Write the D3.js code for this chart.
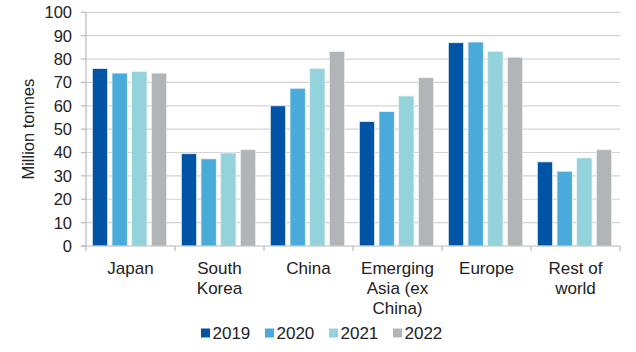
<!DOCTYPE html>
<html>
<head>
<meta charset="utf-8">
<script src="https://cdn.jsdelivr.net/npm/d3@7"></script>
<style>
  body { margin: 0; background: #fff; }
  svg { display: block; font-family: "Liberation Sans", Arial, sans-serif; }
</style>
</head>
<body>
<svg id="chart" width="636" height="352"></svg>
<script>
  // data
  const categories = [['Japan'], ['South', 'Korea'], ['China'], ['Emerging', 'Asia (ex', 'China)'], ['Europe'], ['Rest of', 'world']];
  const years = ['2019', '2020', '2021', '2022'];
  const v2019 = [76, 39.5, 60, 53.3, 87, 36];
  const v2020 = [74, 37.3, 67.5, 57.5, 87.3, 32];
  const v2021 = [74.7, 39.8, 76, 64.2, 83.3, 37.7];
  const v2022 = [74, 41.2, 83.2, 72, 80.8, 41.2];
  const yTicks = [0, 10, 20, 30, 40, 50, 60, 70, 80, 90, 100];
  const colours = ['#0054a6', '#4aabdb', '#94d3db', '#b2b5b8'];

  const series = [v2019, v2020, v2021, v2022];
  const margin = { left: 86, right: 16, top: 12.3, bottom: 106 };
  const W = 636, H = 352;
  const svg = d3.select('#chart');

  const x = d3.scaleBand().domain(d3.range(categories.length))
    .range([margin.left, W - margin.right]).paddingInner(0).paddingOuter(0);
  const y = d3.scaleLinear().domain([0, 100]).range([H - margin.bottom, margin.top]);
  const inner = d3.scaleBand().domain(d3.range(years.length))
    .range([6.3, x.bandwidth() - 8.3]).paddingInner(0.22).paddingOuter(0);

  // gridlines
  svg.append('g').selectAll('line').data(yTicks.slice(1)).join('line')
    .attr('x1', margin.left).attr('x2', W - margin.right)
    .attr('y1', d => y(d)).attr('y2', d => y(d))
    .attr('stroke', '#d3d3d3').attr('stroke-width', 1.2);

  // y tick labels
  svg.append('g').selectAll('text').data(yTicks).join('text')
    .attr('x', 72).attr('y', d => y(d)).attr('dy', '0.36em')
    .attr('text-anchor', 'end').attr('font-size', 16.5).attr('fill', '#222')
    .text(d => d);

  svg.append('text')
    .attr('transform', `translate(33.5,${y(50)}) rotate(-90)`)
    .attr('text-anchor', 'middle').attr('font-size', 16.5).attr('fill', '#222')
    .text('Million tonnes');

  // bars
  const groups = svg.append('g').selectAll('g').data(categories).join('g')
    .attr('transform', (d, i) => `translate(${x(i)},0)`);
  groups.selectAll('rect').data((d, i) => series.map((s, k) => ({ k, v: s[i] }))).join('rect')
    .attr('x', d => inner(d.k)).attr('width', inner.bandwidth())
    .attr('y', d => y(d.v)).attr('height', d => y(0) - y(d.v))
    .attr('fill', d => colours[d.k])
    .attr('stroke', '#eef3f6').attr('stroke-width', 0.8);

  // axes lines
  const axisG = svg.append('g').attr('stroke', '#b9b9b9').attr('stroke-width', 1.2);
  axisG.append('line').attr('x1', margin.left).attr('x2', margin.left)
    .attr('y1', y(100)).attr('y2', y(0));
  axisG.append('line').attr('x1', margin.left - 5).attr('x2', W - margin.right)
    .attr('y1', y(0)).attr('y2', y(0));
  axisG.selectAll('.tk').data(d3.range(categories.length + 1)).join('line')
    .attr('x1', i => margin.left + i * x.bandwidth()).attr('x2', i => margin.left + i * x.bandwidth())
    .attr('y1', y(0)).attr('y2', y(0) + 5);
  axisG.selectAll('.yt').data(yTicks).join('line')
    .attr('x1', margin.left - 5).attr('x2', margin.left)
    .attr('y1', d => y(d)).attr('y2', d => y(d));

  // category labels
  const lab = svg.append('g').selectAll('text').data(categories).join('text')
    .attr('x', (d, i) => x(i) + x.bandwidth() / 2).attr('y', 274)
    .attr('text-anchor', 'middle').attr('font-size', 17).attr('fill', '#222');
  lab.selectAll('tspan').data(d => d).join('tspan')
    .attr('x', function () { return this.parentNode.getAttribute('x'); })
    .attr('dy', (d, j) => j === 0 ? 0 : 20).text(d => d);

  // legend
  const leg = svg.append('g').selectAll('g').data(years).join('g')
    .attr('transform', (d, i) => `translate(${201 + i * 64},333)`);
  leg.append('rect').attr('x', 0).attr('y', -4.5).attr('width', 9).attr('height', 9)
    .attr('fill', (d, i) => colours[i]);
  leg.append('text').attr('x', 11.5).attr('y', 0).attr('dy', '0.36em')
    .attr('font-size', 17).attr('fill', '#222').text(d => d);
</script>
</body>
</html>
